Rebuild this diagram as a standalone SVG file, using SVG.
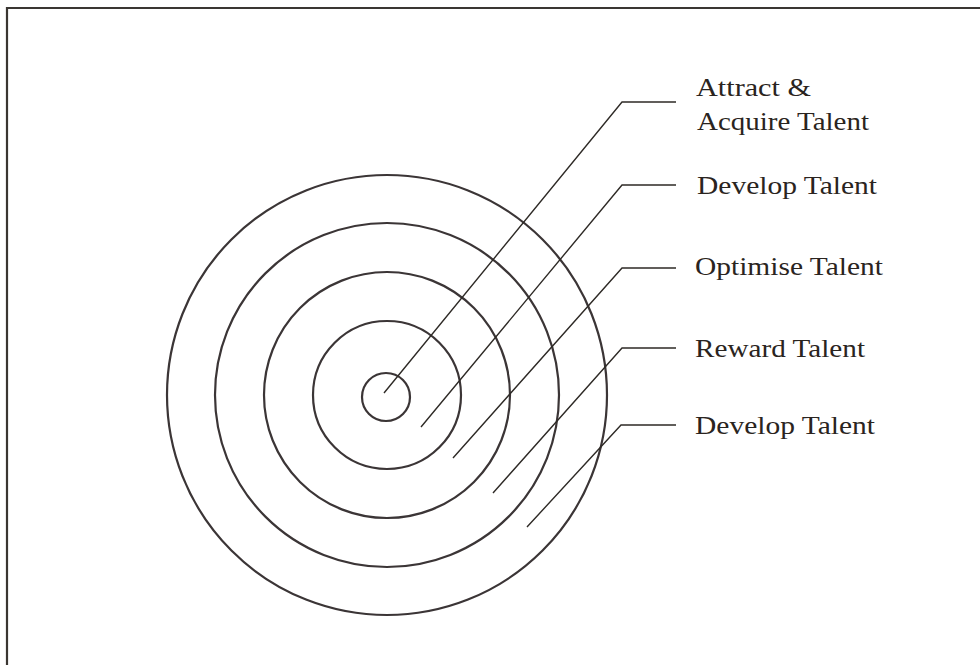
<svg xmlns="http://www.w3.org/2000/svg" width="980" height="665" viewBox="0 0 980 665">
<style>
.ring{fill:none;stroke:#3b3536;stroke-width:2.2}
.lead{fill:none;stroke:#2e2a26;stroke-width:1.4}
.frame{fill:none;stroke:#3a3632;stroke-width:2.2}
.lbl{font-family:"Liberation Serif","Times New Roman",serif;font-size:25px;fill:#2a2420}
</style>
<rect width="980" height="665" fill="#ffffff"/>
<path class="frame" d="M7 665 V8 H980"/>
<g id="rings">
<circle class="ring" cx="387" cy="395" r="220"/>
<circle class="ring" cx="387" cy="395" r="172"/>
<circle class="ring" cx="387" cy="395" r="123"/>
<circle class="ring" cx="387" cy="395" r="74"/>
<circle class="ring" cx="386" cy="397" r="24"/>
</g>
<g id="connectors">
<path class="lead" d="M384 393 L622 102 H676"/>
<path class="lead" d="M421 427 L622 185 H676"/>
<path class="lead" d="M453 458 L622 268 H676"/>
<path class="lead" d="M493 493 L622 348 H676"/>
<path class="lead" d="M527 527 L621 425 H676"/>
</g>
<g id="label1"><text class="lbl" x="696" y="96" textLength="115" lengthAdjust="spacingAndGlyphs">Attract &amp;</text>
<text class="lbl" x="697" y="130" textLength="172" lengthAdjust="spacingAndGlyphs">Acquire Talent</text></g>
<g id="label2"><text class="lbl" x="697" y="194" textLength="180" lengthAdjust="spacingAndGlyphs">Develop Talent</text></g>
<g id="label3"><text class="lbl" x="695" y="275" textLength="188" lengthAdjust="spacingAndGlyphs">Optimise Talent</text></g>
<g id="label4"><text class="lbl" x="695" y="357" textLength="170" lengthAdjust="spacingAndGlyphs">Reward Talent</text></g>
<g id="label5"><text class="lbl" x="695" y="434" textLength="180" lengthAdjust="spacingAndGlyphs">Develop Talent</text></g>
</svg>
